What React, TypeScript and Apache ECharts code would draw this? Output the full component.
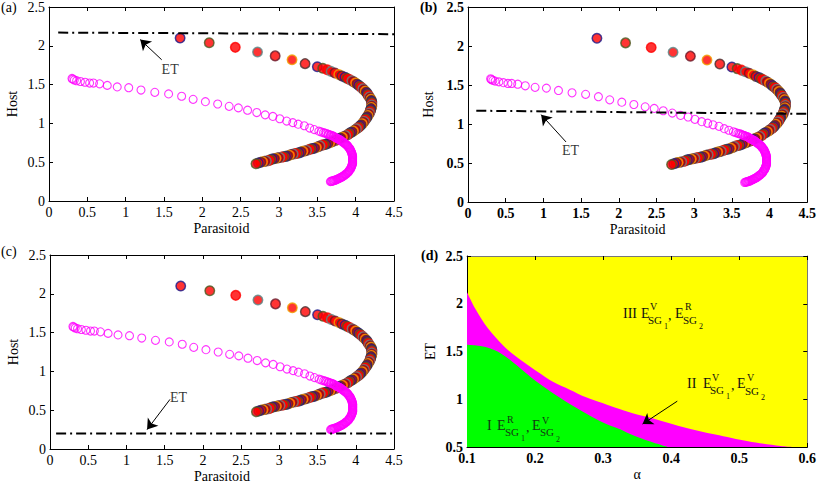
import React, { useEffect, useRef } from "react";
import * as echarts from "echarts";

// ---------- data ----------
const filledCurve: [number, number][] = [
  [1.71, 2.10], [2.09, 2.04], [2.43, 1.98], [2.72, 1.92], [2.95, 1.87], [3.17, 1.82], [3.34, 1.77],
  [3.50, 1.73], [3.57, 1.71], [3.63, 1.69], [3.68, 1.67], [3.73, 1.65], [3.78, 1.63], [3.82, 1.61],
  [3.86, 1.595], [3.89, 1.58], [3.92, 1.565], [3.95, 1.55], [3.975, 1.535], [4.00, 1.52], [4.02, 1.505],
  [4.04, 1.49], [4.06, 1.475], [4.08, 1.46], [4.095, 1.445], [4.11, 1.43], [4.125, 1.415], [4.14, 1.40],
  [4.15, 1.385], [4.16, 1.37], [4.17, 1.355], [4.18, 1.34], [4.19, 1.325], [4.20, 1.31], [4.205, 1.295],
  [4.21, 1.28], [4.21, 1.265], [4.21, 1.25], [4.21, 1.235], [4.21, 1.22], [4.205, 1.205], [4.20, 1.19],
  [4.195, 1.175], [4.19, 1.16], [4.185, 1.145], [4.18, 1.13], [4.17, 1.115], [4.16, 1.10], [4.15, 1.085],
  [4.14, 1.07], [4.13, 1.055], [4.12, 1.04], [4.11, 1.025], [4.10, 1.01], [4.085, 0.995], [4.07, 0.98],
  [4.055, 0.965], [4.04, 0.95], [4.025, 0.94], [4.01, 0.93], [3.99, 0.915], [3.97, 0.90], [3.95, 0.89],
  [3.93, 0.88], [3.91, 0.865], [3.89, 0.85], [3.87, 0.84], [3.85, 0.83], [3.825, 0.82], [3.80, 0.81],
  [3.78, 0.80], [3.76, 0.79], [3.735, 0.78], [3.71, 0.77], [3.685, 0.76], [3.66, 0.75], [3.635, 0.74],
  [3.61, 0.73], [3.585, 0.725], [3.56, 0.72], [3.535, 0.71], [3.51, 0.70], [3.485, 0.69], [3.46, 0.68],
  [3.435, 0.675], [3.41, 0.67], [3.385, 0.66], [3.36, 0.65], [3.335, 0.645], [3.31, 0.64], [3.285, 0.63],
  [3.26, 0.62], [3.235, 0.615], [3.21, 0.61], [3.185, 0.605], [3.16, 0.60], [3.135, 0.59], [3.11, 0.58],
  [3.085, 0.575], [3.06, 0.57], [3.035, 0.565], [3.01, 0.56], [2.985, 0.555], [2.96, 0.55], [2.935, 0.545],
  [2.91, 0.54], [2.885, 0.53], [2.86, 0.52], [2.835, 0.515], [2.81, 0.51], [2.785, 0.505], [2.76, 0.50],
  [2.73, 0.49], [2.70, 0.48],
];

const openCurve: [number, number][] = [
  [0.30, 1.58], [0.31, 1.57], [0.33, 1.56], [0.36, 1.55], [0.41, 1.54], [0.47, 1.53], [0.53, 1.52],
  [0.58, 1.52], [0.66, 1.51], [0.76, 1.49], [0.89, 1.47], [1.04, 1.46], [1.20, 1.43], [1.38, 1.40],
  [1.56, 1.38], [1.73, 1.35], [1.88, 1.31], [2.04, 1.28], [2.20, 1.25], [2.35, 1.22], [2.47, 1.20],
  [2.59, 1.17], [2.71, 1.14], [2.82, 1.11], [2.92, 1.09], [3.01, 1.06], [3.10, 1.03], [3.18, 1.01],
  [3.25, 0.99], [3.33, 0.97], [3.40, 0.94], [3.46, 0.92], [3.52, 0.90], [3.55, 0.89], [3.58, 0.88],
  [3.60, 0.875], [3.62, 0.87], [3.64, 0.86], [3.65, 0.855], [3.67, 0.85], [3.68, 0.845], [3.70, 0.84],
  [3.71, 0.835], [3.72, 0.83], [3.73, 0.82], [3.74, 0.815], [3.75, 0.81], [3.76, 0.805], [3.77, 0.80],
  [3.78, 0.795], [3.79, 0.79], [3.80, 0.785], [3.81, 0.78], [3.82, 0.77], [3.83, 0.76], [3.84, 0.755],
  [3.85, 0.75], [3.86, 0.74], [3.87, 0.73], [3.88, 0.725], [3.89, 0.72], [3.895, 0.71], [3.90, 0.70],
  [3.91, 0.69], [3.92, 0.68], [3.925, 0.67], [3.93, 0.66], [3.935, 0.65], [3.94, 0.64], [3.945, 0.63],
  [3.95, 0.62], [3.95, 0.61], [3.955, 0.60], [3.955, 0.59], [3.96, 0.58], [3.96, 0.57], [3.96, 0.56],
  [3.96, 0.55], [3.96, 0.54], [3.96, 0.53], [3.96, 0.52], [3.96, 0.51], [3.96, 0.50], [3.96, 0.49],
  [3.96, 0.48], [3.955, 0.47], [3.95, 0.46], [3.95, 0.45], [3.945, 0.44], [3.94, 0.43], [3.935, 0.42],
  [3.93, 0.41], [3.92, 0.40], [3.915, 0.39], [3.91, 0.38], [3.90, 0.37], [3.89, 0.36], [3.88, 0.35],
  [3.87, 0.345], [3.86, 0.34], [3.85, 0.33], [3.84, 0.32], [3.83, 0.315], [3.82, 0.31], [3.81, 0.305],
  [3.80, 0.30], [3.79, 0.295], [3.78, 0.29], [3.77, 0.285], [3.76, 0.28], [3.75, 0.275], [3.74, 0.27],
  [3.73, 0.27], [3.72, 0.265], [3.71, 0.26], [3.70, 0.26], [3.69, 0.255], [3.68, 0.255], [3.67, 0.25],
];

const etLineA: [number, number][] = [[0.12, 2.17], [4.5, 2.15]];
const etLineB: [number, number][] = [[0.11, 1.17], [4.5, 1.13]];
const etLineC: [number, number][] = [[0.08, 0.20], [4.5, 0.20]];

const arrowA: [number, number][] = [[1.47, 1.82], [1.19, 2.08]];
const arrowB: [number, number][] = [[1.30, 0.77], [0.97, 1.12]];
const arrowC: [number, number][] = [[1.57, 0.64], [1.27, 0.25]];
const arrowD: [number, number][] = [[0.409, 0.98], [0.358, 0.74]];

const etLabelA: [number, number] = [1.58, 1.69];
const etLabelB: [number, number] = [1.36, 0.66];
const etLabelC: [number, number] = [1.68, 0.67];

const regionIITop: [number, number][] = [
  [0.1, 2.12], [0.112, 1.95], [0.131, 1.74], [0.155, 1.55], [0.179, 1.41], [0.203, 1.29],
  [0.227, 1.18], [0.251, 1.10], [0.275, 1.02], [0.299, 0.96], [0.323, 0.90], [0.35, 0.84],
  [0.368, 0.81], [0.417, 0.71], [0.465, 0.63], [0.513, 0.56], [0.561, 0.51], [0.578, 0.50],
];
const regionITop: [number, number][] = [
  [0.1, 1.57], [0.116, 1.56], [0.131, 1.54], [0.145, 1.50], [0.16, 1.43], [0.179, 1.32],
  [0.203, 1.18], [0.227, 1.06], [0.251, 0.95], [0.275, 0.85], [0.299, 0.76], [0.323, 0.69],
  [0.345, 0.62], [0.368, 0.56], [0.395, 0.50],
];

const edgePalette = ["#1c1c8c", "#4a5a20", "#ff0000", "#5a8a8a", "#6a1a2a", "#f0a000", "#4a3030"];

// ---------- layout ----------
const FONT = "Liberation Serif";
const FS = 14;
const grids = [
  { left: 49, top: 7, right: 425, bottom: 287 },
  { left: 468, top: 7, right: 9, bottom: 286 },
  { left: 50, top: 255, right: 425, bottom: 39 },
  { left: 467, top: 256, right: 5, bottom: 41 },
];

type AnnoPiece = { t: string; x: number; y: number; s: number };
const annoIII: AnnoPiece[] = [
  { t: "III", x: 623, y: 313, s: 14 }, { t: "E", x: 641, y: 313, s: 14 }, { t: "V", x: 650, y: 306, s: 10 },
  { t: "SG", x: 648, y: 320, s: 11 }, { t: "1", x: 664, y: 326, s: 8 }, { t: ",", x: 668, y: 315, s: 14 },
  { t: "E", x: 675, y: 313, s: 14 }, { t: "R", x: 685, y: 306, s: 10 }, { t: "SG", x: 683, y: 320, s: 11 },
  { t: "2", x: 699, y: 326, s: 8 },
];
const annoII: AnnoPiece[] = [
  { t: "II", x: 687, y: 383, s: 14 }, { t: "E", x: 703, y: 383, s: 14 }, { t: "V", x: 712, y: 377, s: 10 },
  { t: "SG", x: 710, y: 390, s: 11 }, { t: "1", x: 726, y: 396, s: 8 }, { t: ",", x: 731, y: 385, s: 14 },
  { t: "E", x: 737, y: 383, s: 14 }, { t: "V", x: 747, y: 377, s: 10 }, { t: "SG", x: 745, y: 391, s: 11 },
  { t: "2", x: 761, y: 397, s: 8 },
];
const annoI: AnnoPiece[] = [
  { t: "I", x: 487, y: 425, s: 14 }, { t: "E", x: 497, y: 425, s: 14 }, { t: "R", x: 507, y: 419, s: 10 },
  { t: "SG", x: 505, y: 432, s: 11 }, { t: "1", x: 521, y: 438, s: 8 }, { t: ",", x: 526, y: 427, s: 14 },
  { t: "E", x: 532, y: 425, s: 14 }, { t: "V", x: 542, y: 420, s: 10 }, { t: "SG", x: 540, y: 432, s: 11 },
  { t: "2", x: 556, y: 439, s: 8 },
];

function annoGraphics(pieces: AnnoPiece[], fill: string) {
  return pieces.map((p) => ({
    type: "text",
    x: p.x,
    y: p.y,
    z: 100,
    style: { text: p.t, fontSize: p.s, fontFamily: FONT, fill, align: "left", verticalAlign: "middle" },
  }));
}

function makeAxes(
  gi: number,
  xr: [number, number, number],
  yr: [number, number, number],
  xName: string,
  yName: string,
  yGap: number,
  bold: boolean,
  boxColor: string
) {
  const lbl = { color: "#000", fontFamily: FONT, fontSize: FS, fontWeight: bold ? "bold" : "normal" };
  const tick = { show: true, inside: true, length: 4, lineStyle: { color: "#000", width: 1 } };
  const base = { type: "value", gridIndex: gi, splitLine: { show: false }, z: 1 };
  const xb = {
    ...base, min: xr[0], max: xr[1], interval: xr[2], position: "bottom",
    axisLine: { show: true, onZero: false, lineStyle: { color: "#000", width: 1 } },
    axisTick: tick, axisLabel: { ...lbl, margin: 4, hideOverlap: false },
    name: xName, nameLocation: "middle", nameGap: 20,
    nameTextStyle: { color: "#000", fontFamily: FONT, fontSize: FS },
  };
  const xt = {
    ...base, min: xr[0], max: xr[1], interval: xr[2], position: "top",
    axisLine: { show: true, onZero: false, lineStyle: { color: boxColor, width: 1 } },
    axisTick: tick, axisLabel: { show: false },
  };
  const yl = {
    ...base, min: yr[0], max: yr[1], interval: yr[2], position: "left",
    axisLine: { show: true, onZero: false, lineStyle: { color: "#000", width: 1 } },
    axisTick: tick, axisLabel: { ...lbl, margin: 4 },
    name: yName, nameLocation: "middle", nameGap: yGap,
    nameTextStyle: { color: "#000", fontFamily: FONT, fontSize: FS },
  };
  const yrt = {
    ...base, min: yr[0], max: yr[1], interval: yr[2], position: "right",
    axisLine: { show: true, onZero: false, lineStyle: { color: boxColor, width: 1 } },
    axisTick: tick, axisLabel: { show: false },
  };
  return { x: [xb, xt], y: [yl, yrt] };
}

function phaseSeries(gi: number, et: [number, number][], arrow: [number, number][], etLabel: [number, number]) {
  const xi = gi * 2;
  return [
    {
      type: "scatter", xAxisIndex: xi, yAxisIndex: xi, z: 3,
      symbol: "circle", symbolSize: 9.5,
      data: filledCurve.map((p, i) => ({
        value: p,
        itemStyle: { color: "#ff0000", borderColor: edgePalette[i % edgePalette.length], borderWidth: 1.5 },
      })),
    },
    {
      type: "scatter", xAxisIndex: xi, yAxisIndex: xi, z: 4,
      symbol: "circle", symbolSize: 8,
      itemStyle: { color: "rgba(255,255,255,0)", borderColor: "#ff00ff", borderWidth: 1.1 },
      data: openCurve,
    },
    {
      type: "line", xAxisIndex: xi, yAxisIndex: xi, z: 5,
      showSymbol: false, symbol: "none",
      lineStyle: { color: "#000", width: 2, type: [10, 4, 2, 4] },
      data: et,
      markLine: {
        silent: true, symbol: ["none", "arrow"], symbolSize: 10,
        lineStyle: { color: "#000", width: 1, type: "solid" },
        label: { show: false },
        data: [[{ coord: arrow[0] }, { coord: arrow[1] }]],
      },
    },
    {
      type: "scatter", xAxisIndex: xi, yAxisIndex: xi, z: 6,
      symbolSize: 0,
      label: { show: true, position: "inside", formatter: "ET", color: "#000", fontFamily: FONT, fontSize: FS },
      data: [etLabel],
    },
  ];
}

export default function App() {
  const ref = useRef<HTMLDivElement>(null);
  useEffect(() => {
    document.body.style.margin = "0";
    if (!ref.current) return;
    const chart = echarts.init(ref.current, undefined, { renderer: "svg" });

    const axA = makeAxes(0, [0, 4.5, 0.5], [0, 2.5, 0.5], "Parasitoid", "Host", 30, false, "#000");
    const axB = makeAxes(1, [0, 4.5, 0.5], [0, 2.5, 0.5], "Parasitoid", "Host", 33, true, "#000");
    const axC = makeAxes(2, [0, 4.5, 0.5], [0, 2.5, 0.5], "Parasitoid", "Host", 30, false, "#000");
    const axD = makeAxes(3, [0.1, 0.6, 0.1], [0.5, 2.5, 0.5], "α", "ET", 30, true, "#777");

    const option: any = {
      animation: false,
      backgroundColor: "#fff",
      grid: grids.map((g, i) => ({
        ...g,
        containLabel: false,
        show: i === 3,
        backgroundColor: i === 3 ? "#ffff00" : "transparent",
        borderWidth: 0,
      })),
      xAxis: [...axA.x, ...axB.x, ...axC.x, ...axD.x],
      yAxis: [...axA.y, ...axB.y, ...axC.y, ...axD.y],
      series: [
        ...phaseSeries(0, etLineA, arrowA, etLabelA),
        ...phaseSeries(1, etLineB, arrowB, etLabelB),
        ...phaseSeries(2, etLineC, arrowC, etLabelC),
        {
          type: "line", xAxisIndex: 6, yAxisIndex: 6, z: 2,
          showSymbol: false, symbol: "none", smooth: 0.3,
          lineStyle: { width: 0, color: "#ff00ff" },
          areaStyle: { color: "#ff00ff", opacity: 1, origin: "start" },
          data: regionIITop,
        },
        {
          type: "line", xAxisIndex: 6, yAxisIndex: 6, z: 3,
          showSymbol: false, symbol: "none", smooth: 0.3,
          lineStyle: { width: 0, color: "#00ff00" },
          areaStyle: { color: "#00ff00", opacity: 1, origin: "start" },
          data: regionITop,
        },
        {
          type: "line", xAxisIndex: 6, yAxisIndex: 6, z: 5,
          showSymbol: false, symbol: "none",
          lineStyle: { width: 0 },
          data: [],
          markLine: {
            silent: true, symbol: ["none", "arrow"], symbolSize: 10,
            lineStyle: { color: "#000", width: 1, type: "solid" },
            label: { show: false },
            data: [[{ coord: arrowD[0] }, { coord: arrowD[1] }]],
          },
        },
      ],
      graphic: [
        { type: "text", x: 1, y: 7, style: { text: "(a)", fontSize: FS, fontFamily: FONT, fill: "#000", verticalAlign: "middle" } },
        { type: "text", x: 420, y: 7, style: { text: "(b)", fontSize: FS, fontWeight: "bold", fontFamily: FONT, fill: "#000", verticalAlign: "middle" } },
        { type: "text", x: 1, y: 251, style: { text: "(c)", fontSize: FS, fontFamily: FONT, fill: "#000", verticalAlign: "middle" } },
        { type: "text", x: 421, y: 255, style: { text: "(d)", fontSize: FS, fontWeight: "bold", fontFamily: FONT, fill: "#000", verticalAlign: "middle" } },
        ...annoGraphics(annoIII, "#111"),
        ...annoGraphics(annoII, "#111"),
        ...annoGraphics(annoI, "#143814"),
      ],
    };
    chart.setOption(option);
    return () => chart.dispose();
  }, []);
  return <div ref={ref} style={{ position: "fixed", left: 0, top: 0, width: 819, height: 488 }} />;
}
